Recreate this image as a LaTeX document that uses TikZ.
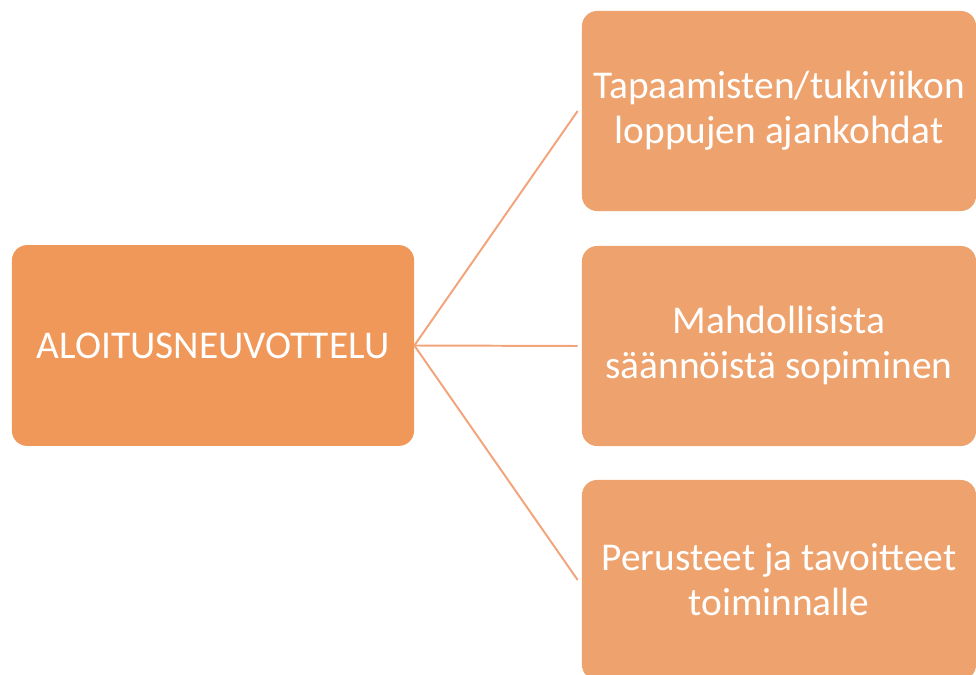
\documentclass[tikz,border=0pt]{standalone}
\usepackage{fontspec}
\setmainfont{Carlito}
\definecolor{mainorange}{HTML}{F0985A}
\definecolor{suborange}{HTML}{EEA36E}
\definecolor{linkorange}{HTML}{F2A57A}
\begin{document}
\begin{tikzpicture}[x=0.025cm, y=-0.025cm]
    \tikzstyle{box}=[rounded corners=0.38cm, inner sep=0pt, text=white, align=center,
        font=\fontsize{28}{32}\selectfont]
    \tikzstyle{mainbox}=[box, fill=mainorange, minimum width=10.05cm, minimum height=5.02cm]
    \tikzstyle{subbox}=[box, fill=suborange, minimum width=9.85cm, minimum height=5cm]
    \tikzstyle{link}=[draw=linkorange, line width=1.4pt]

    \useasboundingbox (0,0) rectangle (976,675);

    \node[mainbox](n_main) at (213, 345.5) {ALOITUSNEUVOTTELU};

    \node[subbox](n_0) at (779, 111) {Tapaamisten/tukiviikon\\loppujen ajankohdat};
    \node[subbox](n_1) at (779, 346) {Mahdollisista\\säännöistä sopiminen};
    \node[subbox](n_2) at (779, 580) {Perusteet ja tavoitteet\\toiminnalle};

    \coordinate(hub) at (n_main.east);
    \draw[link] (hub) -- ([xshift=-0.1cm]n_0.west);
    \draw[link] (hub) -- ([xshift=-0.1cm]n_1.west);
    \draw[link] (hub) -- ([xshift=-0.1cm]n_2.west);
\end{tikzpicture}
\end{document}
